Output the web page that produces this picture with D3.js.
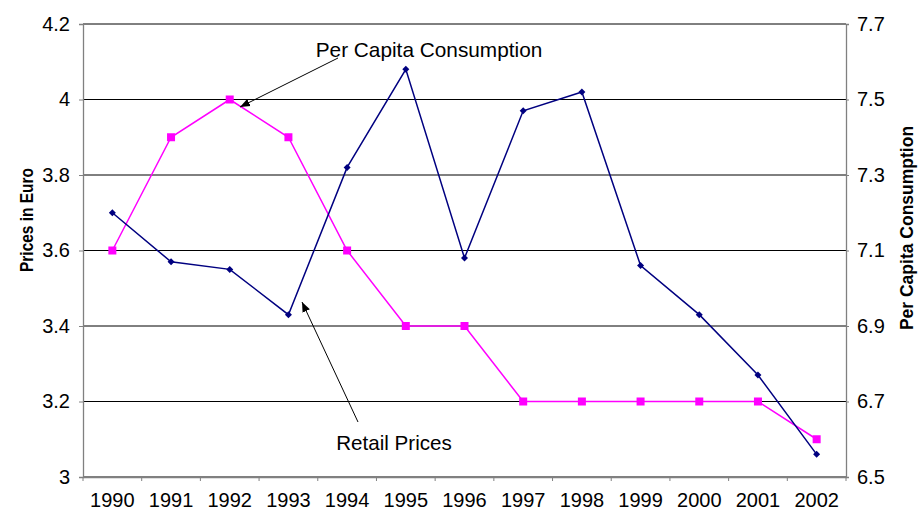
<!DOCTYPE html>
<html><head><meta charset="utf-8">
<script src="https://cdn.jsdelivr.net/npm/d3@7"></script>
<style>body{margin:0;background:#fff}svg{display:block}text{font-family:"Liberation Sans",Arial,sans-serif}</style>
</head><body><svg id="c" width="919" height="510"></svg>
<script>
const years = ["1990","1991","1992","1993","1994","1995","1996","1997","1998","1999","2000","2001","2002"];
const retailPrices = [3.6,3.9,4.0,3.9,3.6,3.4,3.4,3.2,3.2,3.2,3.2,3.2,3.1];
const perCapita = [7.20,7.07,7.05,6.93,7.32,7.58,7.08,7.47,7.52,7.06,6.93,6.77,6.56];
const leftTicks = [3,3.2,3.4,3.6,3.8,4,4.2];
const rightTicks = [6.5,6.7,6.9,7.1,7.3,7.5,7.7];

const svg = d3.select("#c");
const L=83,R=846,T=24,B=477;
const x = d3.scaleBand().domain(years).range([L,R]);
const yL = d3.scaleLinear().domain([3,4.2]).range([B,T]);
const yR = d3.scaleLinear().domain([6.5,7.7]).range([B,T]);
const cx = d=>x(d)+x.bandwidth()/2;

// gridlines
svg.append("g").selectAll("line").data(leftTicks).join("line")
  .attr("x1",L).attr("x2",R).attr("y1",d=>yL(d)).attr("y2",d=>yL(d))
  .attr("stroke","#000").attr("stroke-width",1);

// axes
const fs = "20px";
const gl = svg.append("g").attr("transform",`translate(${L},0)`)
  .call(d3.axisLeft(yL).tickValues(leftTicks).tickFormat(d3.format("")).tickSize(4).tickPadding(9));
const gr = svg.append("g").attr("transform",`translate(${R},0)`)
  .call(d3.axisRight(yR).tickValues(rightTicks).tickFormat(d3.format("")).tickSize(3).tickPadding(8));
const gb = svg.append("g").attr("transform",`translate(0,${B})`)
  .call(d3.axisBottom(x).tickSize(0).tickPadding(13));
// band boundary ticks on bottom
svg.append("g").selectAll("line").data(years.concat(["end"])).join("line")
  .attr("x1",(d,i)=>L+i*x.bandwidth()).attr("x2",(d,i)=>L+i*x.bandwidth())
  .attr("y1",B).attr("y2",B+4).attr("stroke","#808080");
[gl,gr,gb].forEach(g=>{
  g.select(".domain").attr("stroke","#808080").attr("stroke-width",1.3);
  g.selectAll(".tick line").attr("stroke","#808080");
  g.selectAll("text").attr("font-size",fs).attr("fill","#000").style("font-family","'Liberation Sans',Arial,sans-serif");
});
gb.selectAll("text").attr("dy","0.85em");

// axis titles
svg.append("text").attr("transform","translate(33,220) rotate(-90)").attr("text-anchor","middle")
  .attr("font-size","17.5px").attr("font-weight","bold")
  .attr("textLength",104).attr("lengthAdjust","spacingAndGlyphs").text("Prices in Euro");
svg.append("text").attr("transform","translate(913,228) rotate(-90)").attr("text-anchor","middle")
  .attr("font-size","17.5px").attr("font-weight","bold").text("Per Capita Consumption");

// lines
const lineL = d3.line().x((d,i)=>cx(years[i])).y(d=>yL(d));
const lineR = d3.line().x((d,i)=>cx(years[i])).y(d=>yR(d));
svg.append("path").datum(retailPrices).attr("d",lineL).attr("fill","none").attr("stroke","#FF00FF").attr("stroke-width",1.5);
svg.append("path").datum(perCapita).attr("d",lineR).attr("fill","none").attr("stroke","#000080").attr("stroke-width",1.5);
svg.append("g").selectAll("rect").data(retailPrices).join("rect")
  .attr("x",(d,i)=>cx(years[i])-4).attr("y",d=>yL(d)-4).attr("width",8).attr("height",8).attr("fill","#FF00FF");
svg.append("g").selectAll("path").data(perCapita).join("path")
  .attr("transform",(d,i)=>`translate(${cx(years[i])},${yR(d)})`)
  .attr("d","M0,-3.5L3.5,0L0,3.5L-3.5,0Z").attr("fill","#000080");

// annotations
svg.append("defs").append("marker").attr("id","ah").attr("viewBox","0 0 10 10").attr("refX",10).attr("refY",5)
  .attr("markerWidth",10).attr("markerHeight",10).attr("markerUnits","userSpaceOnUse").attr("orient","auto")
  .append("path").attr("d","M0,1L10,5L0,9Z").attr("fill","#000");
svg.append("line").attr("x1",338).attr("y1",58).attr("x2",240).attr("y2",107).attr("stroke","#000").attr("stroke-width",1).attr("marker-end","url(#ah)");
svg.append("line").attr("x1",358).attr("y1",422).attr("x2",302).attr("y2",302).attr("stroke","#000").attr("stroke-width",1).attr("marker-end","url(#ah)");
svg.append("text").attr("x",429).attr("y",57).attr("text-anchor","middle").attr("font-size","20.8px").text("Per Capita Consumption");
svg.append("text").attr("x",394).attr("y",450).attr("text-anchor","middle").attr("font-size","20.6px").text("Retail Prices");
</script></body></html>
